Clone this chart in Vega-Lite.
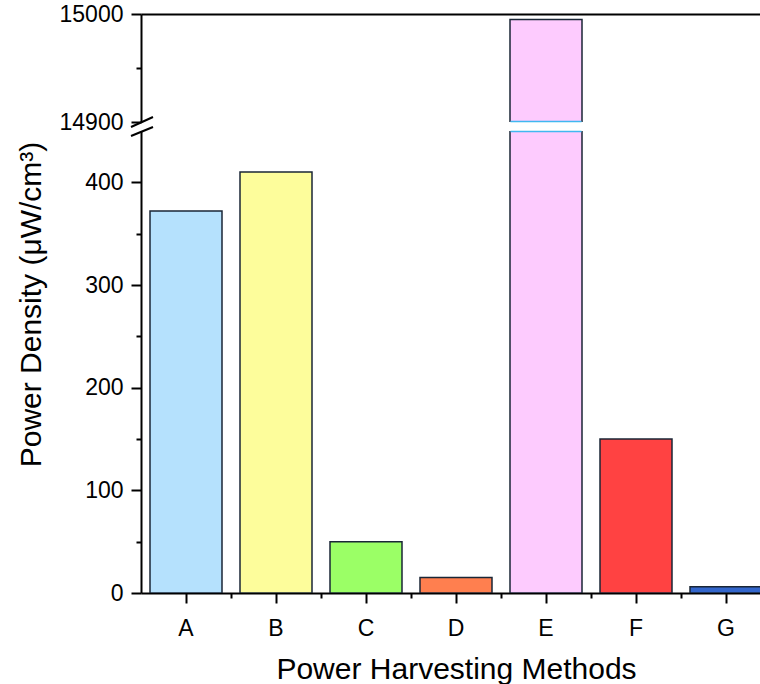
{
  "$schema": "https://vega.github.io/schema/vega-lite/v6.json",
  "background": "white",
  "padding": {"left": 15, "top": 3, "right": 0, "bottom": 0},
  "bounds": "flush",
  "spacing": 9,
  "config": {
    "view": {"stroke": null},
    "font": "Liberation Sans",
    "axis": {
      "domainColor": "black", "domainWidth": 2,
      "tickColor": "black", "tickWidth": 2,
      "labelColor": "black", "titleColor": "black",
      "labelFont": "Liberation Sans", "titleFont": "Liberation Sans",
      "labelFontSize": 23, "titleFontSize": 30, "titleFontWeight": "normal",
      "grid": false
    }
  },
  "datasets": {
    "bars": [
      {"method": "A", "density": 372},
      {"method": "B", "density": 410},
      {"method": "C", "density": 50},
      {"method": "D", "density": 15},
      {"method": "E", "density": 14995},
      {"method": "F", "density": 150},
      {"method": "G", "density": 6}
    ],
    "breakTop": [{"method": "A", "density": 14895.4, "hi": 14904.6}],
    "breakBottom": [{"method": "A", "density": 445.1, "hi": 453.9}],
    "edgeTop": [{"method": "E", "density": 14900.4}],
    "edgeBottom": [{"method": "E", "density": 449.6}]
  },
  "vconcat": [
    {
      "width": 630,
      "height": 108,
      "layer": [
        {
          "data": {"name": "bars"},
          "mark": {"type": "bar", "clip": true, "width": {"band": 0.8}, "stroke": "#1a2636", "strokeWidth": 1.5},
          "encoding": {
            "x": {
              "field": "method", "type": "nominal",
              "scale": {"domain": ["A", "B", "C", "D", "E", "F", "G"], "paddingInner": 0, "paddingOuter": 0},
              "axis": {"orient": "top", "title": null, "labels": false, "ticks": false, "domain": true}
            },
            "y": {
              "field": "density", "type": "quantitative",
              "scale": {"domain": [14900, 15000], "zero": false, "nice": false},
              "axis": {
                "title": null, "values": [14900, 14950, 15000], "format": "d",
                "labelExpr": "datum.value % 100 === 0 ? datum.label : ''",
                "tickSize": {"condition": {"test": "datum.value % 100 === 0", "value": 10}, "value": 5},
                "labelPadding": 8
              }
            },
            "fill": {
              "field": "method", "type": "nominal",
              "scale": {"domain": ["A", "B", "C", "D", "E", "F", "G"], "range": ["#b5e1fd", "#fdfd9b", "#9bff66", "#ff7f4f", "#fdcbfe", "#ff4242", "#3366cc"]},
              "legend": null
            }
          }
        },
        {
          "data": {"name": "edgeTop"},
          "mark": {"type": "tick", "color": "#40b8f0", "thickness": 1.5, "size": 71, "opacity": 1},
          "encoding": {
            "x": {"field": "method", "type": "nominal"},
            "y": {"field": "density", "type": "quantitative"}
          }
        },
        {
          "data": {"name": "breakTop"},
          "mark": {"type": "rule", "color": "black", "strokeWidth": 2},
          "encoding": {
            "x": {"value": -10},
            "x2": {"value": 12},
            "y": {"field": "density", "type": "quantitative"},
            "y2": {"field": "hi"}
          }
        }
      ]
    },
    {
      "width": 630,
      "height": 462,
      "layer": [
        {
          "data": {"name": "bars"},
          "mark": {"type": "bar", "clip": true, "width": {"band": 0.8}, "stroke": "#1a2636", "strokeWidth": 1.5},
          "encoding": {
            "x": {
              "field": "method", "type": "nominal",
              "scale": {"domain": ["A", "B", "C", "D", "E", "F", "G"], "paddingInner": 0, "paddingOuter": 0},
              "axis": {"orient": "bottom", "title": "Power Harvesting Methods", "labelAngle": 0, "tickSize": 10, "labelPadding": 14, "titlePadding": 14}
            },
            "y": {
              "field": "density", "type": "quantitative",
              "scale": {"domain": [0, 450], "nice": false},
              "axis": {
                "title": "Power Density (μW/cm³)",
                "values": [0, 50, 100, 150, 200, 250, 300, 350, 400], "format": "d",
                "labelExpr": "datum.value % 100 === 0 ? datum.label : ''",
                "tickSize": {"condition": {"test": "datum.value % 100 === 0", "value": 10}, "value": 5},
                "labelPadding": 8,
                "titleX": -95, "titleY": 173
              }
            },
            "fill": {
              "field": "method", "type": "nominal",
              "scale": {"domain": ["A", "B", "C", "D", "E", "F", "G"], "range": ["#b5e1fd", "#fdfd9b", "#9bff66", "#ff7f4f", "#fdcbfe", "#ff4242", "#3366cc"]},
              "legend": null
            }
          }
        },
        {
          "data": {"name": "bars"},
          "mark": {"type": "bar", "opacity": 0, "clip": true, "width": {"band": 0.8}},
          "encoding": {
            "x": {
              "field": "method", "type": "nominal",
              "axis": {"orient": "bottom", "title": null, "labels": false, "domain": false, "tickSize": 5, "bandPosition": 1}
            },
            "y": {"field": "density", "type": "quantitative"}
          }
        },
        {
          "data": {"name": "edgeBottom"},
          "mark": {"type": "tick", "color": "#40b8f0", "thickness": 1.5, "size": 71, "opacity": 1},
          "encoding": {
            "x": {"field": "method", "type": "nominal", "axis": null},
            "y": {"field": "density", "type": "quantitative"}
          }
        },
        {
          "data": {"name": "breakBottom"},
          "mark": {"type": "rule", "color": "black", "strokeWidth": 2},
          "encoding": {
            "x": {"value": -10},
            "x2": {"value": 12},
            "y": {"field": "density", "type": "quantitative"},
            "y2": {"field": "hi"}
          }
        }
      ],
      "resolve": {"axis": {"x": "independent"}}
    }
  ]
}
